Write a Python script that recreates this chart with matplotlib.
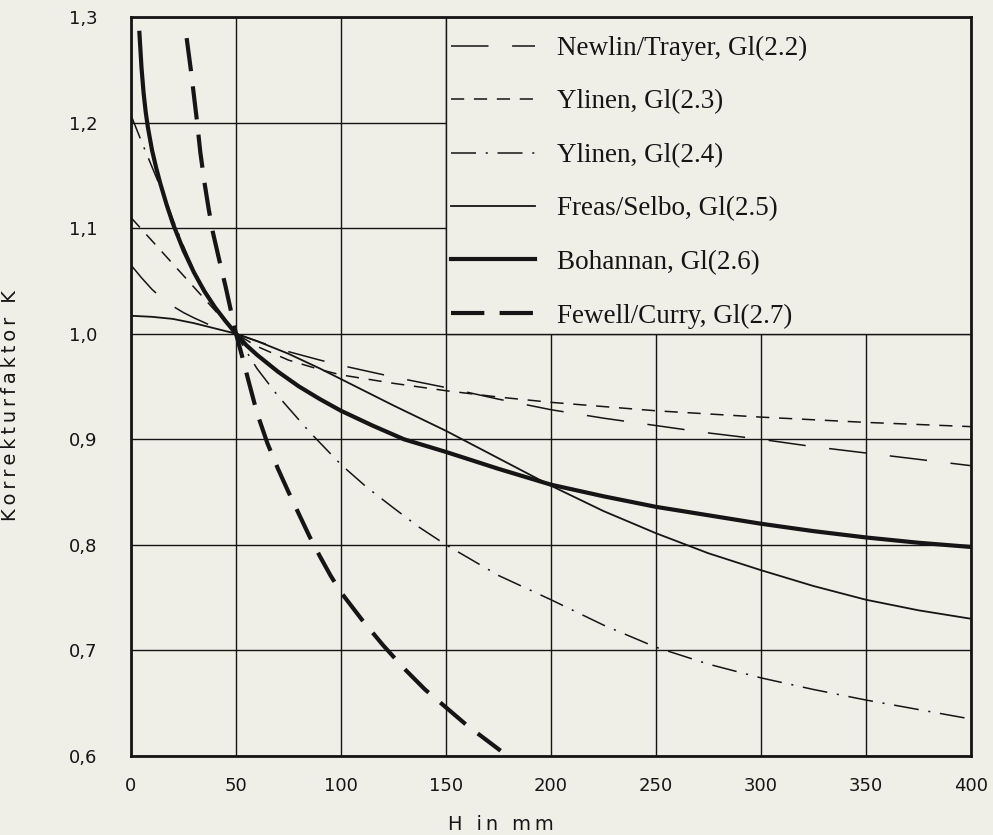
import matplotlib
matplotlib.use("Agg")
import matplotlib.pyplot as plt
from matplotlib.patches import Rectangle

# H in mm -> K
newlin_x = [0, 5, 10, 15, 20, 25, 30, 40, 50, 60, 75, 90, 100, 125, 150, 175, 200,
            225, 250, 275, 300, 325, 350, 375, 400]
newlin_y = [1.065, 1.053, 1.042, 1.033, 1.026, 1.020, 1.015, 1.006, 1.0, 0.993,
            0.983, 0.975, 0.970, 0.959, 0.949, 0.938, 0.928, 0.920, 0.913, 0.906,
            0.900, 0.893, 0.887, 0.881, 0.875]

ylinen23_x = [0, 10, 20, 30, 40, 50, 60, 75, 90, 100, 125, 150, 175, 200, 250, 300,
              350, 400]
ylinen23_y = [1.110, 1.088, 1.066, 1.044, 1.022, 1.0, 0.988, 0.975, 0.966, 0.961,
              0.953, 0.946, 0.940, 0.935, 0.927, 0.921, 0.916, 0.912]

ylinen24_x = [0, 5, 10, 15, 20, 25, 30, 35, 40, 45, 50, 55, 60, 70, 85, 100, 112,
              125, 137, 150, 175, 200, 225, 250, 275, 300, 325, 350, 375, 400]
ylinen24_y = [1.207, 1.182, 1.158, 1.134, 1.108, 1.083, 1.060, 1.042, 1.026, 1.012,
              1.0, 0.983, 0.967, 0.941, 0.907, 0.876, 0.855, 0.835, 0.817, 0.800,
              0.771, 0.748, 0.724, 0.703, 0.687, 0.674, 0.663, 0.653, 0.644, 0.635]

freas_x = [0, 10, 20, 30, 40, 50, 60, 75, 90, 100, 125, 150, 175, 200, 225, 250,
           275, 300, 325, 350, 375, 400]
freas_y = [1.017, 1.016, 1.014, 1.010, 1.005, 1.0, 0.993, 0.981, 0.967, 0.957,
           0.932, 0.908, 0.882, 0.856, 0.832, 0.811, 0.792, 0.776, 0.761, 0.748,
           0.738, 0.730]

bohannan_x = [4, 5, 6, 7, 8, 10, 12, 14, 17, 20, 25, 30, 35, 40, 45, 50, 55, 60, 70,
              80, 90, 100, 115, 130, 150, 175, 200, 225, 250, 275, 300, 325, 350,
              375, 400]
bohannan_y = [1.285, 1.252, 1.228, 1.210, 1.196, 1.174, 1.157, 1.142, 1.122, 1.104,
              1.079, 1.058, 1.040, 1.025, 1.012, 1.0, 0.989, 0.980, 0.964, 0.950,
              0.938, 0.927, 0.913, 0.900, 0.888, 0.872, 0.857, 0.846, 0.836, 0.828,
              0.820, 0.813, 0.807, 0.802, 0.798]

fewell_x = [26.5, 28.5, 30, 31.5, 33, 35, 37, 39, 42, 45, 48, 50, 53, 56, 60, 65, 70,
            75, 80, 85, 90, 95, 100, 110, 120, 130, 140, 150, 160, 170, 176]
fewell_y = [1.28, 1.25, 1.225, 1.2, 1.172, 1.143, 1.118, 1.096, 1.07, 1.045, 1.018,
            1.0, 0.978, 0.955, 0.925, 0.896, 0.872, 0.850, 0.829, 0.808, 0.789,
            0.771, 0.755, 0.729, 0.705, 0.683, 0.663, 0.646, 0.629, 0.614, 0.605]

labels = ["Newlin/Trayer, Gl(2.2)", "Ylinen, Gl(2.3)", "Ylinen, Gl(2.4)",
          "Freas/Selbo, Gl(2.5)", "Bohannan, Gl(2.6)", "Fewell/Curry, Gl(2.7)"]

x_ticks = [0, 50, 100, 150, 200, 250, 300, 350, 400]
y_ticks = [0.6, 0.7, 0.8, 0.9, 1.0, 1.1, 1.2, 1.3]
y_ticklabels = ["0,6", "0,7", "0,8", "0,9", "1,0", "1,1", "1,2", "1,3"]

paper = "#efeee7"
ink = "#151515"

plt.rcParams["lines.scale_dashes"] = False
plt.rcParams["font.family"] = ["DejaVu Sans"]

fig = plt.figure(figsize=(9.93, 8.35), dpi=100, facecolor=paper)
ax = fig.add_axes([131 / 993, 1 - 756 / 835, 840 / 993, 739 / 835])
ax.set_facecolor(paper)

ax.plot(newlin_x, newlin_y, color=ink, lw=1.1, ls=(0, (27, 17)), label=labels[0])
ax.plot(ylinen23_x, ylinen23_y, color=ink, lw=1.1, ls=(0, (9.5, 7)), label=labels[1])
ax.plot(ylinen24_x, ylinen24_y, color=ink, lw=1.1, ls=(0, (18, 7, 1.5, 7)), label=labels[2])
ax.plot(freas_x, freas_y, color=ink, lw=1.3, label=labels[3])
ax.plot(bohannan_x, bohannan_y, color=ink, lw=3.0, label=labels[4])
ax.plot(fewell_x, fewell_y, color=ink, lw=3.0, ls=(0, (24, 11)), label=labels[5])

ax.set_xlim(0, 400)
ax.set_ylim(0.6, 1.3)
ax.set_xticks(x_ticks)
ax.set_yticks(y_ticks)
ax.set_yticklabels(y_ticklabels)
ax.tick_params(length=0, labelsize=13, colors=ink)
ax.tick_params(axis="x", pad=15)
ax.tick_params(axis="y", pad=24)

ax.set_axisbelow(True)
ax.grid(True, color=ink, lw=1.0)
# legend field sits in the upper right cells, grid hidden there
ax.add_patch(Rectangle((150, 1.0), 250, 0.3, facecolor=paper, edgecolor=ink,
                       lw=1.0, zorder=1))
for s in ax.spines.values():
    s.set_linewidth(2.0)
    s.set_color(ink)

ax.set_xlabel("H\u2009 \u2009i\u2009n\u2009 \u2009m\u2009m", fontsize=14, color=ink)
ax.xaxis.set_label_coords((501 - 131) / 840, (756 - 815) / 739)
ax.set_ylabel("K\u2009o\u2009r\u2009r\u2009e\u2009k\u2009t\u2009u\u2009r\u2009f\u2009a\u2009k\u2009t\u2009o\u2009r\u2009 \u2009K",
              fontsize=14, color=ink)
ax.yaxis.set_label_coords((20 - 131) / 840, (756 - 406) / 739)

leg = ax.legend(loc="upper left", bbox_to_anchor=((451 - 131) / 840, 1 - 19 / 739),
                frameon=False, prop={"family": "Liberation Serif", "size": 19.5},
                handlelength=3.1, handletextpad=0.8, labelspacing=1.05, borderpad=0,
                borderaxespad=0)
for t in leg.get_texts():
    t.set_color(ink)

fig.savefig("out.png", dpi=100, facecolor=paper)
